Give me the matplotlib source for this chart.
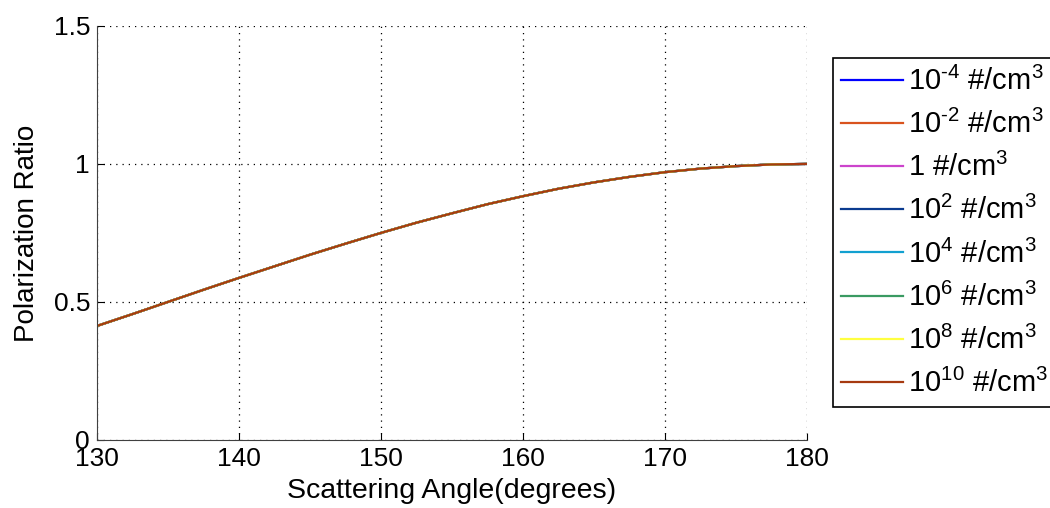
import matplotlib
matplotlib.use('Agg')
import matplotlib.pyplot as plt

plt.rcParams['font.family'] = ['Liberation Sans', 'DejaVu Sans']
plt.rcParams['mathtext.fontset'] = 'custom'
plt.rcParams['mathtext.rm'] = 'Liberation Sans'
plt.rcParams['mathtext.it'] = 'Liberation Sans'
plt.rcParams['mathtext.default'] = 'regular'

# scattering angle (degrees)
angle = [130, 132.5, 135, 137.5, 140, 142.5, 145, 147.5, 150, 152.5, 155,
         157.5, 160, 162.5, 165, 167.5, 170, 172.5, 175, 177.5, 180]
# polarization ratio (all densities overlap)
ratio = [0.413, 0.456, 0.500, 0.544, 0.587, 0.629, 0.671, 0.711, 0.750, 0.787, 0.821,
         0.854, 0.883, 0.910, 0.933, 0.953, 0.970, 0.983, 0.992, 0.998, 1.0]

labels = [r'$10^{\text{-}4}$ #/cm$^3$', r'$10^{\text{-}2}$ #/cm$^3$', '1 #/cm$^3$', '$10^{2}$ #/cm$^3$',
          '$10^{4}$ #/cm$^3$', '$10^{6}$ #/cm$^3$', '$10^{8}$ #/cm$^3$', '$10^{10}$ #/cm$^3$']
colors = ['#0000ff', '#d9531e', '#cc44cc', '#0b3b8f', '#12a0d0', '#3a9a62', '#ffff40', '#a63a10']

fig = plt.figure(figsize=(10.5, 5.08), dpi=100)
ax = fig.add_axes([0.0924, 0.134, 0.676, 0.815])

for lab, c in zip(labels, colors):
    ax.plot(angle, ratio, color=c, lw=1.6, label=lab)

ax.set_xlim(130, 180)
ax.set_ylim(0, 1.5)
ax.set_xticks([130, 140, 150, 160, 170, 180])
ax.set_yticks([0, 0.5, 1, 1.5])
ax.set_yticklabels(['0', '0.5', '1', '1.5'])
ax.grid(True, linestyle=(0, (1, 4)), color='black', linewidth=0.9)
ax.spines['top'].set_visible(False)
ax.spines['right'].set_visible(False)
ax.spines['left'].set_color('#404040')
ax.spines['bottom'].set_color('#404040')
ax.tick_params(direction='in', labelsize=19, length=5, pad=5)
ax.set_xlabel('Scattering Angle(degrees)', fontsize=20.5, labelpad=5)
ax.set_ylabel('Polarization Ratio', fontsize=20, labelpad=10)

leg = fig.legend(loc='upper left', bbox_to_anchor=(0.793, 0.886), fontsize=21,
                 handlelength=2.1, handletextpad=0.2, labelspacing=0.48,
                 borderpad=0.3, borderaxespad=0, fancybox=False, framealpha=1,
                 edgecolor='black')
leg.get_frame().set_linewidth(1.2)

fig.savefig('out.png', dpi=100)
